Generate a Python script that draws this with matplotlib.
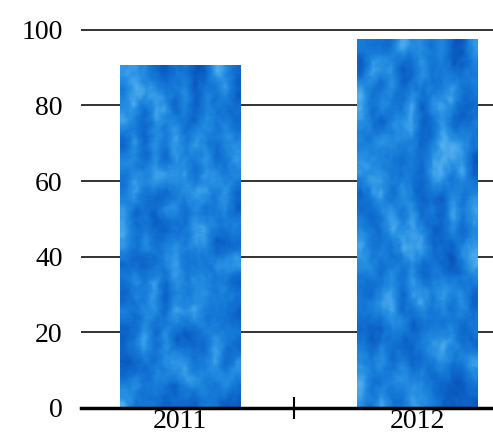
import numpy as np
import matplotlib.pyplot as plt
from matplotlib.colors import LinearSegmentedColormap

# 데이터
years = ["2011", "2012"]
values = [90.5, 97.3]
y_ticks = [0, 20, 40, 60, 80, 100]

plt.rcParams["font.family"] = ["Liberation Serif", "DejaVu Serif"]


def blur(a, k, axis):
    """가장자리는 반사시켜 이동평균"""
    pad = [(0, 0), (0, 0)]
    pad[axis] = (k, k)
    a = np.pad(a, pad, mode="reflect")
    kernel = np.ones(k) / k
    a = np.apply_along_axis(lambda v: np.convolve(v, kernel, mode="same"), axis, a)
    return a[k:-k, :] if axis == 0 else a[:, k:-k]


# 물감 느낌의 파란 질감 만들기
def paint_texture(rows, cols, seed):
    rng = np.random.default_rng(seed)
    coarse = rng.random((rows // 8, cols // 4))
    coarse = np.kron(coarse, np.ones((8, 4)))
    coarse = blur(blur(coarse, 11, 0), 5, 1)
    fine = rng.random((rows, cols))
    fine = blur(blur(fine, 3, 0), 2, 1)
    tex = 0.75 * coarse + 0.25 * fine
    tex = (tex - tex.min()) / (tex.max() - tex.min())
    return tex


cmap = LinearSegmentedColormap.from_list(
    "paint", ["#0852b8", "#0e68cc", "#167bd8", "#2790e3", "#55b0ef"]
)

fig = plt.figure(figsize=(4.93, 4.34), dpi=100)
ax = fig.add_axes([0.164, 0.06, 0.836, 0.875])

x = np.arange(len(years))
bars = ax.bar(x, values, width=0.51, color="#1a7bd6", zorder=2)

for i, b in enumerate(bars):
    x0, y0 = b.get_x(), b.get_y()
    w, h = b.get_width(), b.get_height()
    tex = paint_texture(160, 48, seed=5 + i)
    ax.imshow(tex, cmap=cmap, extent=(x0, x0 + w, y0, y0 + h), aspect="auto",
              interpolation="bilinear", zorder=3, vmin=0.0, vmax=1.0)

ax.set_xlim(-0.42, 1.32)
ax.set_ylim(0, 100.4)
ax.set_yticks(y_ticks)
ax.set_xticks(x)
ax.set_xticklabels(years)
ax.set_xticks([0.48], minor=True)

ax.yaxis.grid(True, color="#222222", linewidth=1.3, zorder=1)
ax.set_axisbelow(True)

for side in ["top", "right", "left"]:
    ax.spines[side].set_visible(False)
ax.spines["bottom"].set_linewidth(2.5)
ax.spines["bottom"].set_color("black")
ax.spines["bottom"].set_zorder(4)

ax.tick_params(axis="y", length=0, pad=13, labelsize=20)
ax.tick_params(axis="x", which="major", length=0, pad=1, labelsize=20)
ax.tick_params(axis="x", which="minor", direction="inout", length=16, width=1.5)

fig.savefig("out.png", dpi=100)
